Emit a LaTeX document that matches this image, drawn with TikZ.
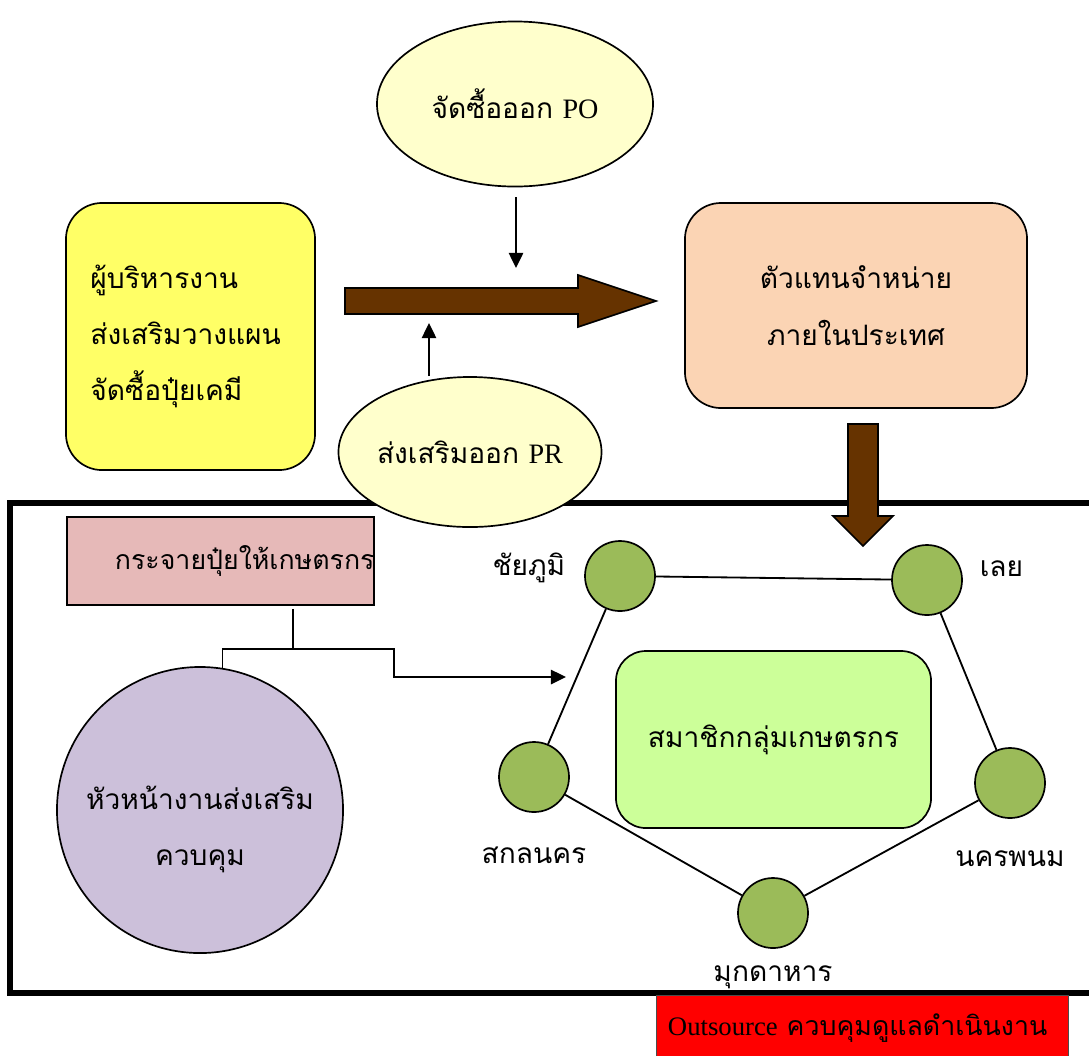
\documentclass[tikz,border=0pt]{standalone}
\usepackage{fontspec}
\setmainfont{Liberation Serif}
\newfontfamily\thai[Script=Thai]{Loma}
\usetikzlibrary{positioning, arrows.meta, shapes.geometric}

\definecolor{boxyellow}{HTML}{FFFF66}
\definecolor{bubbleyellow}{HTML}{FFFFCC}
\definecolor{peach}{HTML}{FBD4B4}
\definecolor{darkbrown}{HTML}{663300}
\definecolor{rosepink}{HTML}{E6B9B8}
\definecolor{lilac}{HTML}{CCC0DA}
\definecolor{olivegreen}{HTML}{9BBB59}
\definecolor{limegreen}{HTML}{CCFF99}

\tikzset{
    >={Triangle[length=0.38cm, width=0.36cm]}, % filled heads for the thin arrows
    every node/.style={font=\thai\fontsize{20}{40}\selectfont}, % thai text everywhere
    plan/.style={draw, line width=1.2pt, rounded corners=0.9cm}, % rounded boxes
    bubble/.style={ellipse, draw, line width=1.2pt, fill=bubbleyellow, inner sep=0pt},
    province/.style={circle, draw, line width=1.2pt, fill=olivegreen, minimum size=1.75cm, inner sep=0pt},
    link/.style={line width=1.3pt}, % thin connectors
    bigarrow/.style={draw, line width=1.2pt, fill=darkbrown}, % brown block arrows
}

\begin{document}
\begin{tikzpicture}[x=0.025cm, y=-0.025cm]
    \useasboundingbox (0,0) rectangle (1089,1055);

    % Frame
    \draw[line width=3.6pt] (10,503) rectangle (1120,993);

    % Top
    \node[plan, fill=boxyellow, minimum width=6.225cm, minimum height=6.675cm, text width=5.0cm, align=left] (boss) at (190.5,336.5) {ผู้บริหารงาน\\ส่งเสริมวางแผน\\จัดซื้อปุ๋ยเคมี};
    \node[plan, fill=peach, minimum width=8.55cm, minimum height=5.125cm, align=center] (dealer) at (856,305.5) {ตัวแทนจำหน่าย\\ภายในประเทศ};
    \node[bubble, minimum width=6.9cm, minimum height=4.125cm] (po) at (515,104) {จัดซื้อออก {\rmfamily PO}};
    \node[bubble, minimum width=6.45cm, minimum height=3.75cm] (pr) at (470,452) {ส่งเสริมออก {\rmfamily PR}};

    \filldraw[bigarrow] (345,288) -- (578,288) -- (578,275) -- (656,301) -- (578,327) -- (578,314) -- (345,314) -- cycle;
    \filldraw[bigarrow] (848,424) -- (878,424) -- (878,516) -- (893,516) -- (863,546) -- (833,516) -- (848,516) -- cycle;

    \coordinate (flowtop) at (516,268);
    \coordinate (flowbot) at (429,323);
    \draw[link, ->] ([yshift=-0.25cm]po.south -| flowtop) -- (flowtop);
    \draw[link, ->] (pr.north -| flowbot) -- (flowbot);

    % Bottom left
    \node[draw, line width=1.2pt, fill=rosepink, minimum width=7.675cm, minimum height=2.2cm, text width=5.275cm, align=left, font=\thai\fontsize{19}{38}\selectfont] (spread) at (220.5,561) {\mbox{กระจายปุ๋ยให้เกษตรกร}};
    \node[circle, draw, line width=1.2pt, fill=lilac, minimum size=7.15cm, inner sep=0pt, align=center] (head) at (200,810) {\rule{0pt}{1.55cm}หัวหน้างานส่งเสริม\\ควบคุม};

    \coordinate (fork) at (293,649);
    \coordinate (bend) at (394,649);
    \coordinate (target) at (566,677);
    \draw[link] ([yshift=-0.075cm]spread.south -| fork) -- (fork);
    \draw[link] (fork) -| (head.81);
    \draw[link, ->] (fork) -- (bend) |- (target);

    % Provinces
    \node[plan, fill=limegreen, rounded corners=0.75cm, minimum width=7.875cm, minimum height=4.425cm] (members) at (773.5,739.5) {สมาชิกกลุ่มเกษตรกร};
    \node[province, label={[label distance=0.35cm, yshift=0.2cm]left:ชัยภูมิ}] (cp) at (620,576) {};
    \node[province, label={[label distance=0.3cm, yshift=0.28cm]right:เลย}] (loei) at (927,580) {};
    \node[province, label={[label distance=0.67cm]below:นครพนม}] (np) at (1010,783) {};
    \node[province, label={[label distance=0.3cm]below:มุกดาหาร}] (md) at (773,913) {};
    \node[province, label={[label distance=0.72cm]below:สกลนคร}] (sk) at (534,777) {};

    \draw[link] (cp) -- (loei);
    \draw[link] (cp) -- (sk);
    \draw[link] (loei) -- (np);
    \draw[link] (sk) -- (md);
    \draw[link] (md) -- (np);

    % Outsource
    \node[draw=black!70, fill=red, minimum width=10.3cm, minimum height=1.65cm, text width=9.7cm, align=left, font=\thai\fontsize{19}{38}\selectfont] (outsource) at (862,1028) {\mbox{{\rmfamily Outsource} ควบคุมดูแลดำเนินงาน}};
\end{tikzpicture}
\end{document}
